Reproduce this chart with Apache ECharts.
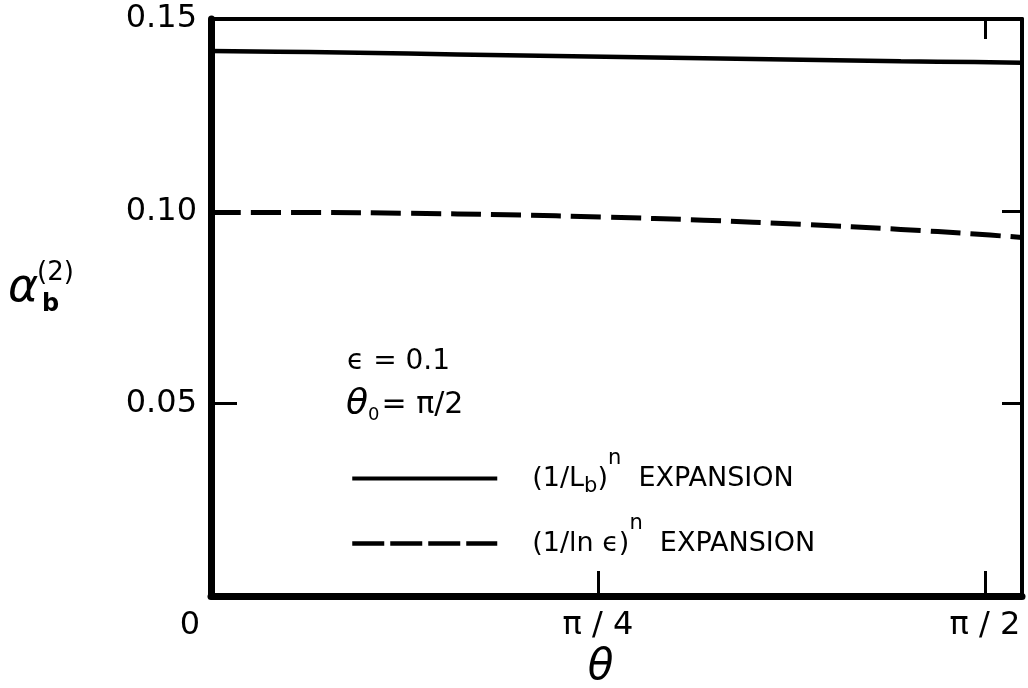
<!DOCTYPE html>
<html>
<head>
<meta charset="utf-8">
<script src="https://cdn.jsdelivr.net/npm/echarts@6/dist/echarts.min.js"></script>
<style>
  html, body { margin: 0; padding: 0; background: #fff; }
  #main { width: 1028px; height: 688px; }
</style>
</head>
<body>
<div id="main"></div>
<script>
// theta in radians, second-order coefficient alpha_b^(2) for two expansions
const thetaRad = [0, 0.2, 0.4, 0.6, 0.8, 1.0, 1.2, 1.4, 1.55, 1.646];
const lbExpansion = [0.1417, 0.1414, 0.1410, 0.1406, 0.1402, 0.1398, 0.1394, 0.1390, 0.1388, 0.1386];
const lnEpsExpansion = [0.0997, 0.0997, 0.0995, 0.0991, 0.0985, 0.0977, 0.0966, 0.0953, 0.0941, 0.0932];

const xTickLabels = ['0', 'π / 4', 'π / 2'];
const yTickValues = [0.05, 0.10, 0.15];
const seriesNames = ['(1/Lb)n EXPANSION', '(1/ln ϵ)n EXPANSION'];
const legendMarkup = [
  '{t|(1/L}{sub|b}{t|)}{sup|n}{t|  EXPANSION}',
  '{t|(1/ln ϵ)}{sup|n}{t|  EXPANSION}'
];

const FONT = 'DejaVu Sans';
const INK = '#000';
const STEP = Math.PI / 4;
const X_MAX = 1.646;

function xLabel(v) {
  const k = v / STEP;
  const idx = Math.round(k);
  if (Math.abs(k - idx) > 1e-6 || idx >= xTickLabels.length) return '';
  return idx === 0 ? '{z|' + xTickLabels[0] + '}' : xTickLabels[idx];
}

function yLabel(v) {
  for (const t of yTickValues) {
    if (Math.abs(v - t) < 1e-9) return t.toFixed(2);
  }
  return '';
}

const chart = echarts.init(document.getElementById('main'), null, { renderer: 'canvas' });

const tickInside = (len) => ({ show: true, inside: true, length: len, lineStyle: { color: INK, width: 3 } });
const frameLine = (w) => ({ show: true, onZero: false, lineStyle: { color: INK, width: w } });

chart.setOption({
  backgroundColor: '#fff',
  animation: false,
  grid: { left: 211, right: 6, top: 19, bottom: 92, outerBoundsMode: 'none' },
  xAxis: [
    {
      type: 'value', position: 'bottom', min: 0, max: X_MAX, interval: STEP,
      axisLine: frameLine(7),
      axisTick: tickInside(25),
      splitLine: { show: false },
      axisLabel: {
        show: true, margin: 14, color: INK, fontFamily: FONT, fontSize: 32,
        showMaxLabel: false, formatter: xLabel,
        rich: { z: { fontFamily: FONT, fontSize: 32, color: INK, padding: [0, 42, 0, 0] } }
      },
      name: 'θ', nameLocation: 'middle', nameGap: 46,
      nameTextStyle: { color: INK, fontFamily: FONT, fontSize: 42, fontStyle: 'italic', padding: [0, 32, 0, 0] }
    },
    {
      type: 'value', position: 'top', min: 0, max: X_MAX, interval: STEP,
      axisLine: frameLine(4),
      axisTick: Object.assign(tickInside(20), { customValues: [2 * STEP] }),
      splitLine: { show: false },
      axisLabel: { show: false }
    }
  ],
  yAxis: [
    {
      type: 'value', position: 'left', min: 0, max: 0.15, interval: 0.05,
      axisLine: frameLine(7),
      axisTick: tickInside(26),
      splitLine: { show: false },
      axisLabel: { show: true, margin: 14, color: INK, fontFamily: FONT, fontSize: 32, formatter: yLabel }
    },
    {
      type: 'value', position: 'right', min: 0, max: 0.15, interval: 0.05,
      axisLine: frameLine(4),
      axisTick: tickInside(20),
      splitLine: { show: false },
      axisLabel: { show: false }
    }
  ],
  legend: {
    orient: 'vertical', left: 350, top: 448, padding: 0,
    itemWidth: 145, itemHeight: 40, itemGap: 4,
    selectedMode: false,
    itemStyle: { opacity: 0 },
    data: [
      { name: seriesNames[0], itemStyle: { opacity: 0 }, lineStyle: { color: INK, width: 4, type: 'solid' } },
      { name: seriesNames[1], itemStyle: { opacity: 0 }, lineStyle: { color: INK, width: 4.5, type: [32, 6] } }
    ],
    formatter: (name) => legendMarkup[seriesNames.indexOf(name)],
    textStyle: {
      color: INK, fontFamily: FONT, fontSize: 27, padding: [0, 0, 0, 30],
      rich: {
        t: { fontFamily: FONT, fontSize: 27, color: INK, lineHeight: 30 },
        sub: { fontFamily: FONT, fontSize: 21, color: INK, lineHeight: 20, padding: [16, 0, 0, 0] },
        sup: { fontFamily: FONT, fontSize: 21, color: INK, lineHeight: 20, padding: [0, 0, 40, 0] }
      }
    }
  },
  graphic: [
    {
      type: 'text', x: 347, y: 362,
      style: { text: 'ϵ = 0.1', font: '28px "DejaVu Sans"', fill: INK, verticalAlign: 'middle', align: 'left' }
    },
    {
      type: 'text', x: 346, y: 405,
      style: {
        text: '{th|θ}{sub|0}{t|= π/2}', fill: INK, verticalAlign: 'middle', align: 'left',
        rich: {
          th: { fontFamily: FONT, fontSize: 36, fontStyle: 'italic', fill: INK, lineHeight: 40 },
          sub: { fontFamily: FONT, fontSize: 18, fill: INK, lineHeight: 18, padding: [20, 2, 0, 0] },
          t: { fontFamily: FONT, fontSize: 30, fill: INK, lineHeight: 40 }
        }
      }
    },
    {
      type: 'text', x: 8, y: 289,
      style: { text: 'α', font: 'italic 46px "DejaVu Sans"', fill: INK, verticalAlign: 'middle', align: 'left' }
    },
    {
      type: 'text', x: 37, y: 273,
      style: { text: '(2)', font: '26px "DejaVu Sans"', fill: INK, verticalAlign: 'middle', align: 'left' }
    },
    {
      type: 'text', x: 42, y: 305,
      style: { text: 'b', font: 'bold 24px "DejaVu Sans"', fill: INK, verticalAlign: 'middle', align: 'left' }
    }
  ],
  series: [
    {
      name: seriesNames[0], type: 'line', xAxisIndex: 0, yAxisIndex: 0,
      symbol: 'none', smooth: 0.4,
      itemStyle: { color: INK },
      lineStyle: { color: INK, width: 4.5, type: 'solid' },
      data: thetaRad.map((t, i) => [t, lbExpansion[i]])
    },
    {
      name: seriesNames[1], type: 'line', xAxisIndex: 0, yAxisIndex: 0,
      symbol: 'none', smooth: 0.4,
      itemStyle: { color: INK },
      lineStyle: { color: INK, width: 5, type: [30, 10] },
      data: thetaRad.map((t, i) => [t, lnEpsExpansion[i]])
    }
  ]
});
</script>
</body>
</html>
